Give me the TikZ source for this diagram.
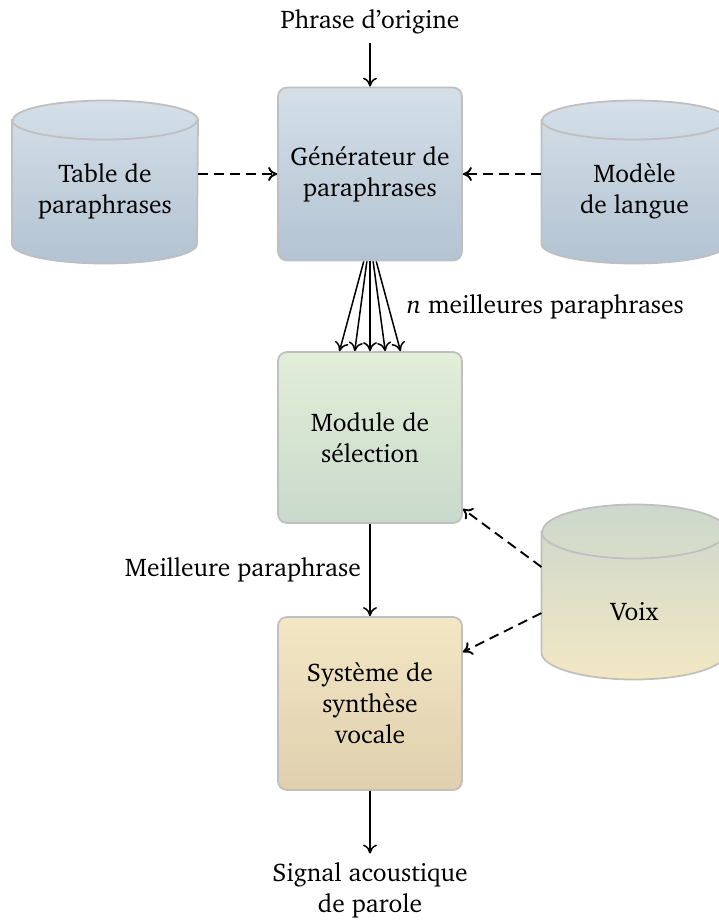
\documentclass[tikz,border=0pt]{standalone}
\usepackage[T1]{fontenc}
\usepackage{charter}
\usetikzlibrary{arrows.meta}
\definecolor{edgegray}{HTML}{BFBFBF}
\definecolor{blueTop}{HTML}{D4DFE8}
\definecolor{blueBot}{HTML}{B3C3D2}
\definecolor{greenTop}{HTML}{E2EED8}
\definecolor{greenBot}{HTML}{C9D9CB}
\definecolor{sandTop}{HTML}{F3E7C4}
\definecolor{sandBot}{HTML}{DFCFAE}
\definecolor{voixTop}{HTML}{CCD8CC}
\definecolor{voixBot}{HTML}{F2E7C4}
\tikzset{
	every node/.style={font=\fontsize{10.2}{12.4}\selectfont, align=center},
	block/.style={rectangle, rounded corners=3.6pt, draw=edgegray, line width=0.7pt,
			minimum width=73.6pt, minimum height=69.2pt},
	store/.style={rectangle, inner sep=0pt, minimum width=74pt, minimum height=64.8pt},
	flow/.style={-{To[length=3.6pt,width=5.6pt]}, line width=0.6pt},
	feed/.style={flow, line width=0.75pt, dash pattern=on 4pt off 2.4pt}
}
\begin{document}
\begin{tikzpicture}[x=0.4pt, y=-0.4pt]
		\useasboundingbox (0,0) rectangle (719,923);
		% boxes
		\node (src) at (370,22) {Phrase d'origine};
		\node[block, top color=blueTop, bottom color=blueBot] (gen) at (370,174) {G\'en\'erateur de\\paraphrases};
		\node[block, top color=greenTop, bottom color=greenBot, minimum height=68.4pt] (sel) at (370,437.5) {Module de\\s\'election};
		\node[block, top color=sandTop, bottom color=sandBot] (syn) at (370,703.5) {Syst\`eme de\\synth\`ese\\vocale};
		\node (out) at (370,890) {Signal acoustique\\de parole};
		% stores
		\node[store] (tab) at (105,182) {};
		\node[store] (lm) at (634.5,182) {};
		\node[store, minimum height=69.6pt] (voix) at (634.5,592) {};
		\foreach \s/\r/\ct/\cb in {tab/7.8pt/blueTop/blueBot, lm/7.8pt/blueTop/blueBot, voix/10.8pt/voixTop/voixBot} {
			\path[draw=edgegray, line width=0.7pt, top color=\ct, bottom color=\cb]
				([yshift=-\r]\s.north west) -- ([yshift=\r]\s.south west)
				arc[start angle=180, end angle=360, x radius=37pt, y radius=\r]
				-- ([yshift=-\r]\s.north east)
				arc[start angle=0, end angle=180, x radius=37pt, y radius=\r] -- cycle;
			\draw[edgegray, line width=0.7pt] ([yshift=-\r]\s.north west)
				arc[start angle=180, end angle=360, x radius=37pt, y radius=\r];
		}
		\node (tablbl) at (105,191) {Table de\\paraphrases};
		\node (lmlbl) at (634.5,191) {Mod\`ele\\de langue};
		\node (voixlbl) at (634.5,612) {Voix};
		% connectors
		\draw[flow] (src) -- (gen);
		\foreach \i in {-2,...,2}
			\draw[flow] ([xshift=\i*1.25pt]gen.south) -- ([xshift=\i*6.1pt]sel.north);
		\node[anchor=west] (nbest) at (398,307) {\textit{n} meilleures paraphrases};
		\draw[flow] (sel) -- node[anchor=east, pos=0.5] (best) {Meilleure paraphrase} (syn);
		\draw[flow] (syn) -- (out);
		\draw[feed] (tab.east |- gen.west) -- (gen.west);
		\draw[feed] (lm.west |- gen.east) -- (gen.east);
		\draw[feed] ([yshift=10pt]voix.west) -- ([yshift=6pt]sel.south east);
		\draw[feed] ([yshift=-8.4pt]voix.west) -- ([yshift=-14.4pt]syn.north east);
	\end{tikzpicture}
\end{document}
